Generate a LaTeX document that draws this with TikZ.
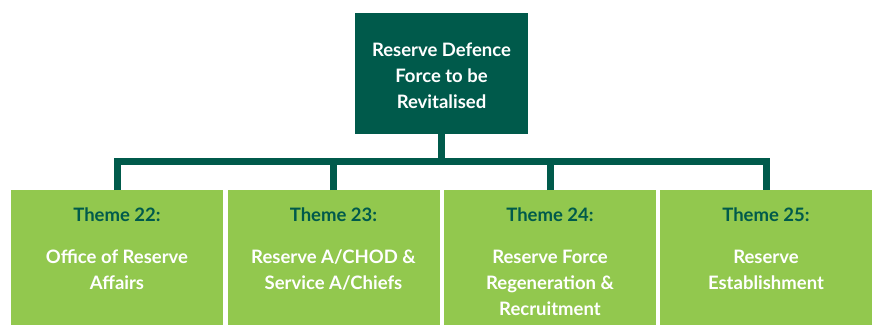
\documentclass[tikz,border=0pt]{standalone}
\usepackage{fontspec}
\setmainfont{Lato}[BoldFont={* Bold}]
\definecolor{darkgreen}{HTML}{005A4B}
\definecolor{lightgreen}{HTML}{92C84E}
\begin{document}
\begin{tikzpicture}[x=1pt,y=-1pt,
  txt/.style={font=\fontsize{18.5}{26}\selectfont\bfseries, align=center, inner sep=0pt},
  topbox/.style={rectangle, fill=darkgreen, minimum width=173pt, minimum height=121pt, inner sep=0pt},
  themebox/.style={rectangle, fill=lightgreen, minimum width=212pt, minimum height=140pt, inner sep=0pt, anchor=north},
  themelbl/.style={txt, text=darkgreen},
  bodylbl/.style={txt, text=white},
  conn/.style={draw=darkgreen, line width=7pt, line join=miter}]
\useasboundingbox (0,0) rectangle (874,324);
\clip (0,0) rectangle (874,324);
\fill[white] (0,0) rectangle (874,324);
\node[topbox] (top) at (441.5,73.5) {};
\node[bodylbl] (toplbl) at (441.5,75.5) {Reserve Defence\\Force to be\\Revitalised};
\node[themebox] (b1) at (117,190) {};
\node[themebox] (b2) at (333.5,190) {};
\node[themebox] (b3) at (550,190) {};
\node[themebox] (b4) at (766,190) {};
\coordinate (bar) at (0,161.5);
\draw[conn] (top.south) -- (top.south |- bar);
\draw[conn] (b1.north) -- (b1.north |- bar) -- (b4.north |- bar) -- (b4.north);
\draw[conn] (b2.north) -- (b2.north |- bar);
\draw[conn] (b3.north) -- (b3.north |- bar);
\node[themelbl] (t1) at (117,215) {Theme 22:};
\node[themelbl] (t2) at (333.5,215) {Theme 23:};
\node[themelbl] (t3) at (550,215) {Theme 24:};
\node[themelbl] (t4) at (766,215) {Theme 25:};
\node[bodylbl] (d1) at (117,270) {Office of Reserve\\Affairs};
\node[bodylbl] (d2) at (333.5,270) {Reserve A/CHOD \&\\Service A/Chiefs};
\node[bodylbl] (d3) at (550,283) {Reserve Force\\Regeneration \&\\Recruitment};
\node[bodylbl] (d4) at (766,270) {Reserve\\Establishment};
\end{tikzpicture}
\end{document}
